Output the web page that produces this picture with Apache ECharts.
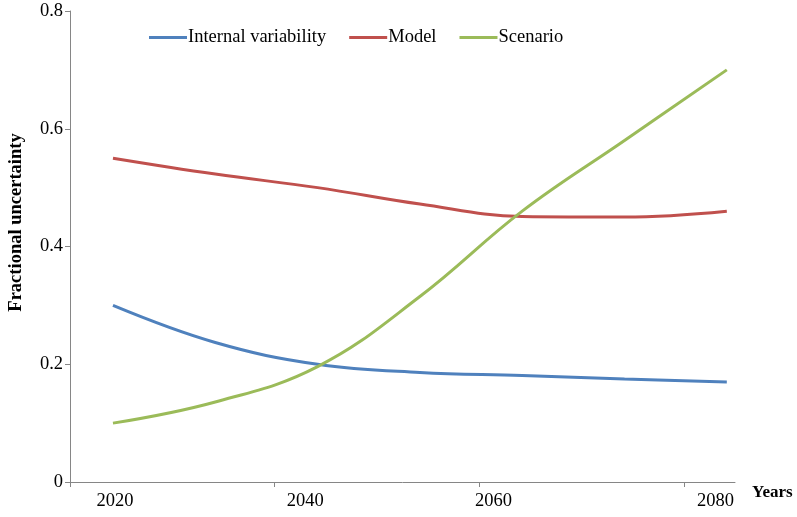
<!DOCTYPE html>
<html>
<head>
<meta charset="utf-8">
<script src="https://cdn.jsdelivr.net/npm/echarts@6/dist/echarts.min.js"></script>
<style>
html,body{margin:0;padding:0;background:#fff;}
#chart{width:797px;height:517px;}
</style>
</head>
<body>
<div id="chart"></div>
<script>
const years = [2020, 2030, 2040, 2050, 2060, 2070, 2080];
const internalVariability = [0.30, 0.237, 0.20, 0.186, 0.181, 0.175, 0.170];
const model = [0.55, 0.523, 0.50, 0.472, 0.451, 0.45, 0.46];
const scenario = [0.10, 0.136, 0.196, 0.315, 0.46, 0.58, 0.70];
const xTickLabels = ['2020', '2040', '2060', '2080'];
const seriesNames = ['Internal variability', 'Model', 'Scenario'];

// layout constants (axis geometry, not data)
const xMin = 2015.8, xMax = 2080.8;
const xTickAt = [2015.8, 2035.8, 2055.8, 2075.8];
const xLabelAt = [2020.2, 2038.8, 2057.2, 2078.9];

const colors = ['#4F81BD', '#C0504D', '#9BBB59'];
const font = 'Liberation Serif';

function pairs(vals) { return years.map((y, i) => [y, vals[i]]); }

const chart = echarts.init(document.getElementById('chart'));
chart.setOption({
  animation: false,
  backgroundColor: '#fff',
  color: colors,
  textStyle: { fontFamily: font },
  grid: { left: 70, right: 62, top: 11, bottom: 35, containLabel: false, outerBoundsMode: 'none' },
  legend: {
    left: 149, top: 28, padding: 0,
    icon: 'rect', itemWidth: 38, itemHeight: 3, itemGap: 23,
    textStyle: { fontFamily: font, fontSize: 18.5, color: '#000', padding: [0, 0, 0, -4] },
    data: seriesNames
  },
  xAxis: {
    type: 'value', min: xMin, max: xMax,
    name: 'Years', nameLocation: 'end', nameGap: 17,
    nameTextStyle: { fontFamily: font, fontSize: 17, fontWeight: 'bold', color: '#000', verticalAlign: 'top', padding: [2, 0, 0, 0] },
    axisLine: { show: true, lineStyle: { color: '#868686', width: 1 } },
    axisTick: { show: true, customValues: xTickAt, length: 5, inside: false, lineStyle: { color: '#868686' } },
    axisLabel: {
      customValues: xLabelAt, margin: 10,
      fontFamily: font, fontSize: 18.5, color: '#000',
      formatter: function (v) { const i = xLabelAt.indexOf(v); return i >= 0 ? xTickLabels[i] : ''; }
    },
    splitLine: { show: false }
  },
  yAxis: {
    type: 'value', min: 0, max: 0.8, interval: 0.2,
    name: 'Fractional uncertainty', nameLocation: 'middle', nameGap: 44, nameRotate: 90,
    nameTextStyle: { fontFamily: font, fontSize: 18.5, fontWeight: 'bold', color: '#000', padding: [0, 0, 0, 48] },
    axisLine: { show: true, lineStyle: { color: '#868686', width: 1 } },
    axisTick: { show: true, length: 5, lineStyle: { color: '#868686' } },
    axisLabel: { fontFamily: font, fontSize: 18.5, color: '#000', margin: 7,
      formatter: function (v) { return v === 0 ? '0' : v.toFixed(1); } },
    splitLine: { show: false }
  },
  series: [
    { name: seriesNames[0], type: 'line', smooth: 0.4, symbol: 'none', data: pairs(internalVariability), lineStyle: { width: 3, color: colors[0] } },
    { name: seriesNames[1], type: 'line', smooth: 0.4, symbol: 'none', data: pairs(model), lineStyle: { width: 3, color: colors[1] } },
    { name: seriesNames[2], type: 'line', smooth: 0.4, symbol: 'none', data: pairs(scenario), lineStyle: { width: 3, color: colors[2] } }
  ]
});
</script>
</body>
</html>
